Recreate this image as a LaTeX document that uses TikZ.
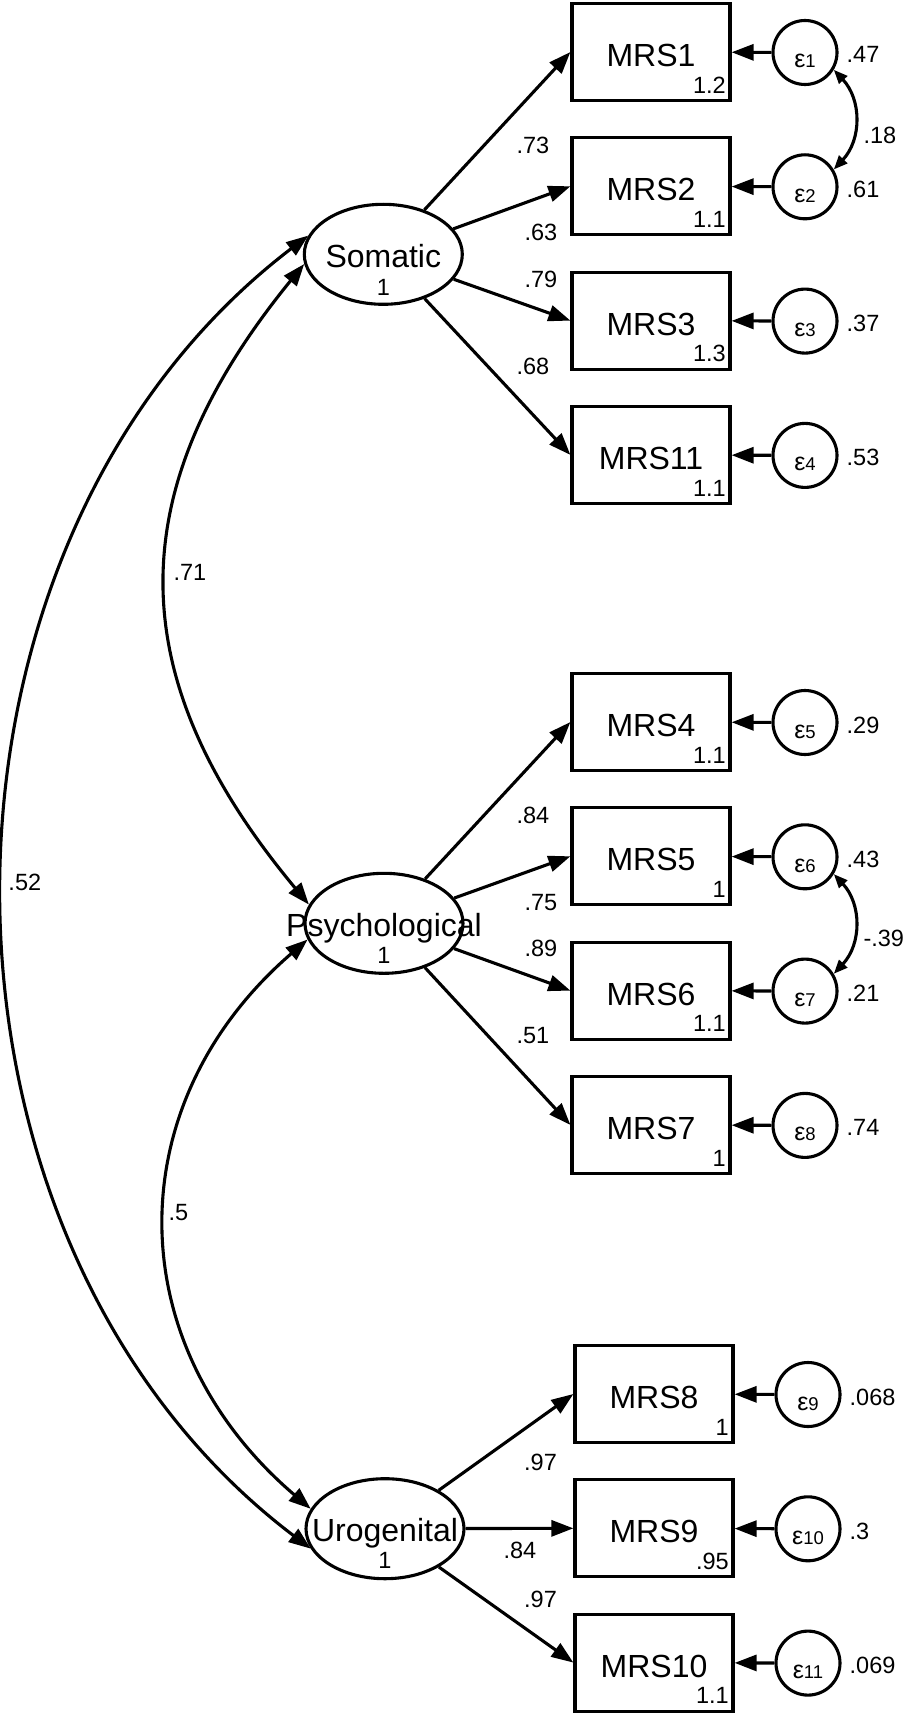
\documentclass[tikz,border=0pt]{standalone}
\usepackage{fontspec}
\setmainfont{Liberation Sans}
\usetikzlibrary{arrows.meta,shapes.geometric}
\newcommand\myeps{\fontsize{25}{25}\selectfont}
\newcommand\myidx{\fontsize{18.5}{18.5}\selectfont}
\newcommand\mrsind[7]{%
  \node[obsbox] (#1) at (#2,#3) {};
  \node[bigtext, anchor=base] (#1t) at (#2,#3+14.5) {#4};
  \node[smalltext, anchor=base east] (#1i) at (#2+75,#3+41.3) {#5};
  \node[errc] (e#1) at (#2+154,#3+0.5) {};
  \node[anchor=base, inner sep=0pt] (e#1t) at (#2+154,#3+16) {\myeps ε\myidx #6};
  \node[smalltext, anchor=base west] (e#1v) at (#2+195.5,#3+11) {#7};
  \draw[errarrow] (e#1) -- (#1);
}
\begin{document}
\begin{tikzpicture}[x=1pt,y=-1pt,
  obsbox/.style={draw, line width=3.2pt, minimum width=158pt, minimum height=97pt, inner sep=0pt},
  latent/.style={draw, ellipse, line width=3.1pt, minimum width=158pt, minimum height=100pt, inner sep=0pt},
  errc/.style={draw, circle, line width=3.1pt, minimum size=64pt, inner sep=0pt},
  bigtext/.style={font=\fontsize{32}{32}\selectfont, inner sep=0pt},
  smalltext/.style={font=\fontsize{23.5}{23.5}\selectfont, inner sep=0pt},
  loadarrow/.style={line width=3.1pt, -{Triangle[length=22pt,width=16pt]}},
  errarrow/.style={line width=3.1pt, -{Triangle[length=22pt,width=16pt]}},
  covarrow/.style={line width=3.1pt, {Triangle[length=22pt,width=16pt]}-{Triangle[length=22pt,width=16pt]}},
  ecovarrow/.style={line width=3.1pt, {Triangle[length=14pt,width=11pt]}-{Triangle[length=14pt,width=11pt]}},
]
\useasboundingbox (0,0) rectangle (908,1715);

% latent variables
\node[latent] (som) at (383.3,254.3) {};
\node[bigtext, anchor=base] (somt) at (383.3,267.3) {Somatic};
\node[smalltext, anchor=base] (soml) at (383.3,295.3) {1};
\node[latent] (psy) at (384,923.3) {};
\node[bigtext, anchor=base] (psyt) at (384,936.5) {Psychological};
\node[smalltext, anchor=base] (psyl) at (384,963.5) {1};
\node[latent] (uro) at (385,1528.7) {};
\node[bigtext, anchor=base] (urot) at (385,1541.7) {Urogenital};
\node[smalltext, anchor=base] (urol) at (385,1568.5) {1};

% indicators
\mrsind{m1}{651}{52}{MRS1}{1.2}{1}{.47}
\mrsind{m2}{651}{186.3}{MRS2}{1.1}{2}{.61}
\mrsind{m3}{651}{320.6}{MRS3}{1.3}{3}{.37}
\mrsind{m11}{651}{454.9}{MRS11}{1.1}{4}{.53}
\mrsind{m4}{651}{722}{MRS4}{1.1}{5}{.29}
\mrsind{m5}{651}{856.3}{MRS5}{1}{6}{.43}
\mrsind{m6}{651}{990.6}{MRS6}{1.1}{7}{.21}
\mrsind{m7}{651}{1124.9}{MRS7}{1}{8}{.74}
\mrsind{m8}{654}{1394}{MRS8}{1}{9}{.068}
\mrsind{m9}{654}{1528.3}{MRS9}{.95}{10}{.3}
\mrsind{m10}{654}{1662.6}{MRS10}{1.1}{11}{.069}

% loadings
\draw[loadarrow] (som) -- (m1.west);
\draw[loadarrow] (som) -- (m2.west);
\draw[loadarrow] (som) -- (m3.west);
\draw[loadarrow] (som) -- (m11.west);
\draw[loadarrow] (psy) -- (m4.west);
\draw[loadarrow] (psy) -- (m5.west);
\draw[loadarrow] (psy) -- (m6.west);
\draw[loadarrow] (psy) -- (m7.west);
\draw[loadarrow] (uro) -- (m8.west);
\draw[loadarrow] (uro) -- (m9.west);
\draw[loadarrow] (uro) -- (m10.west);

\node[smalltext, anchor=base west] (l1) at (516.3,154) {.73};
\node[smalltext, anchor=base west] (l2) at (524.3,240.7) {.63};
\node[smalltext, anchor=base west] (l3) at (524.3,287.3) {.79};
\node[smalltext, anchor=base west] (l11) at (516.3,374) {.68};
\node[smalltext, anchor=base west] (l4) at (516.3,823.3) {.84};
\node[smalltext, anchor=base west] (l5) at (524.3,910) {.75};
\node[smalltext, anchor=base west] (l6) at (524.3,956.7) {.89};
\node[smalltext, anchor=base west] (l7) at (516.3,1043.3) {.51};
\node[smalltext, anchor=base west] (l8) at (524,1470) {.97};
\node[smalltext, anchor=base west] (l9) at (503.3,1558.3) {.84};
\node[smalltext, anchor=base west] (l10) at (524,1607.7) {.97};

% factor covariances
\draw[covarrow] (som.187) .. controls +(-185,227) and +(-189,-227) .. (psy.166);
\draw[covarrow] (psy.192) .. controls +(-190,164) and +(-192,-164) .. (uro.165);
\draw[covarrow] (som.166) .. controls +(-406,310) and +(-409,-310) .. (uro.195);
\node[smalltext, anchor=base west] (c71) at (173.3,580) {.71};
\node[smalltext, anchor=base west] (c5) at (168.3,1220) {.5};
\node[smalltext, anchor=base west] (c52) at (8.3,890) {.52};

% error covariances
\draw[ecovarrow] (em1.-31) .. controls +(28,30) and +(28,-30) .. (em2.31);
\node[smalltext, anchor=base west] (c18) at (863.3,143.3) {.18};
\draw[ecovarrow] (em5.-31) .. controls +(28,30) and +(28,-30) .. (em6.31);
\node[smalltext, anchor=base west] (c39) at (863.3,946.7) {-.39};
\end{tikzpicture}
\end{document}
